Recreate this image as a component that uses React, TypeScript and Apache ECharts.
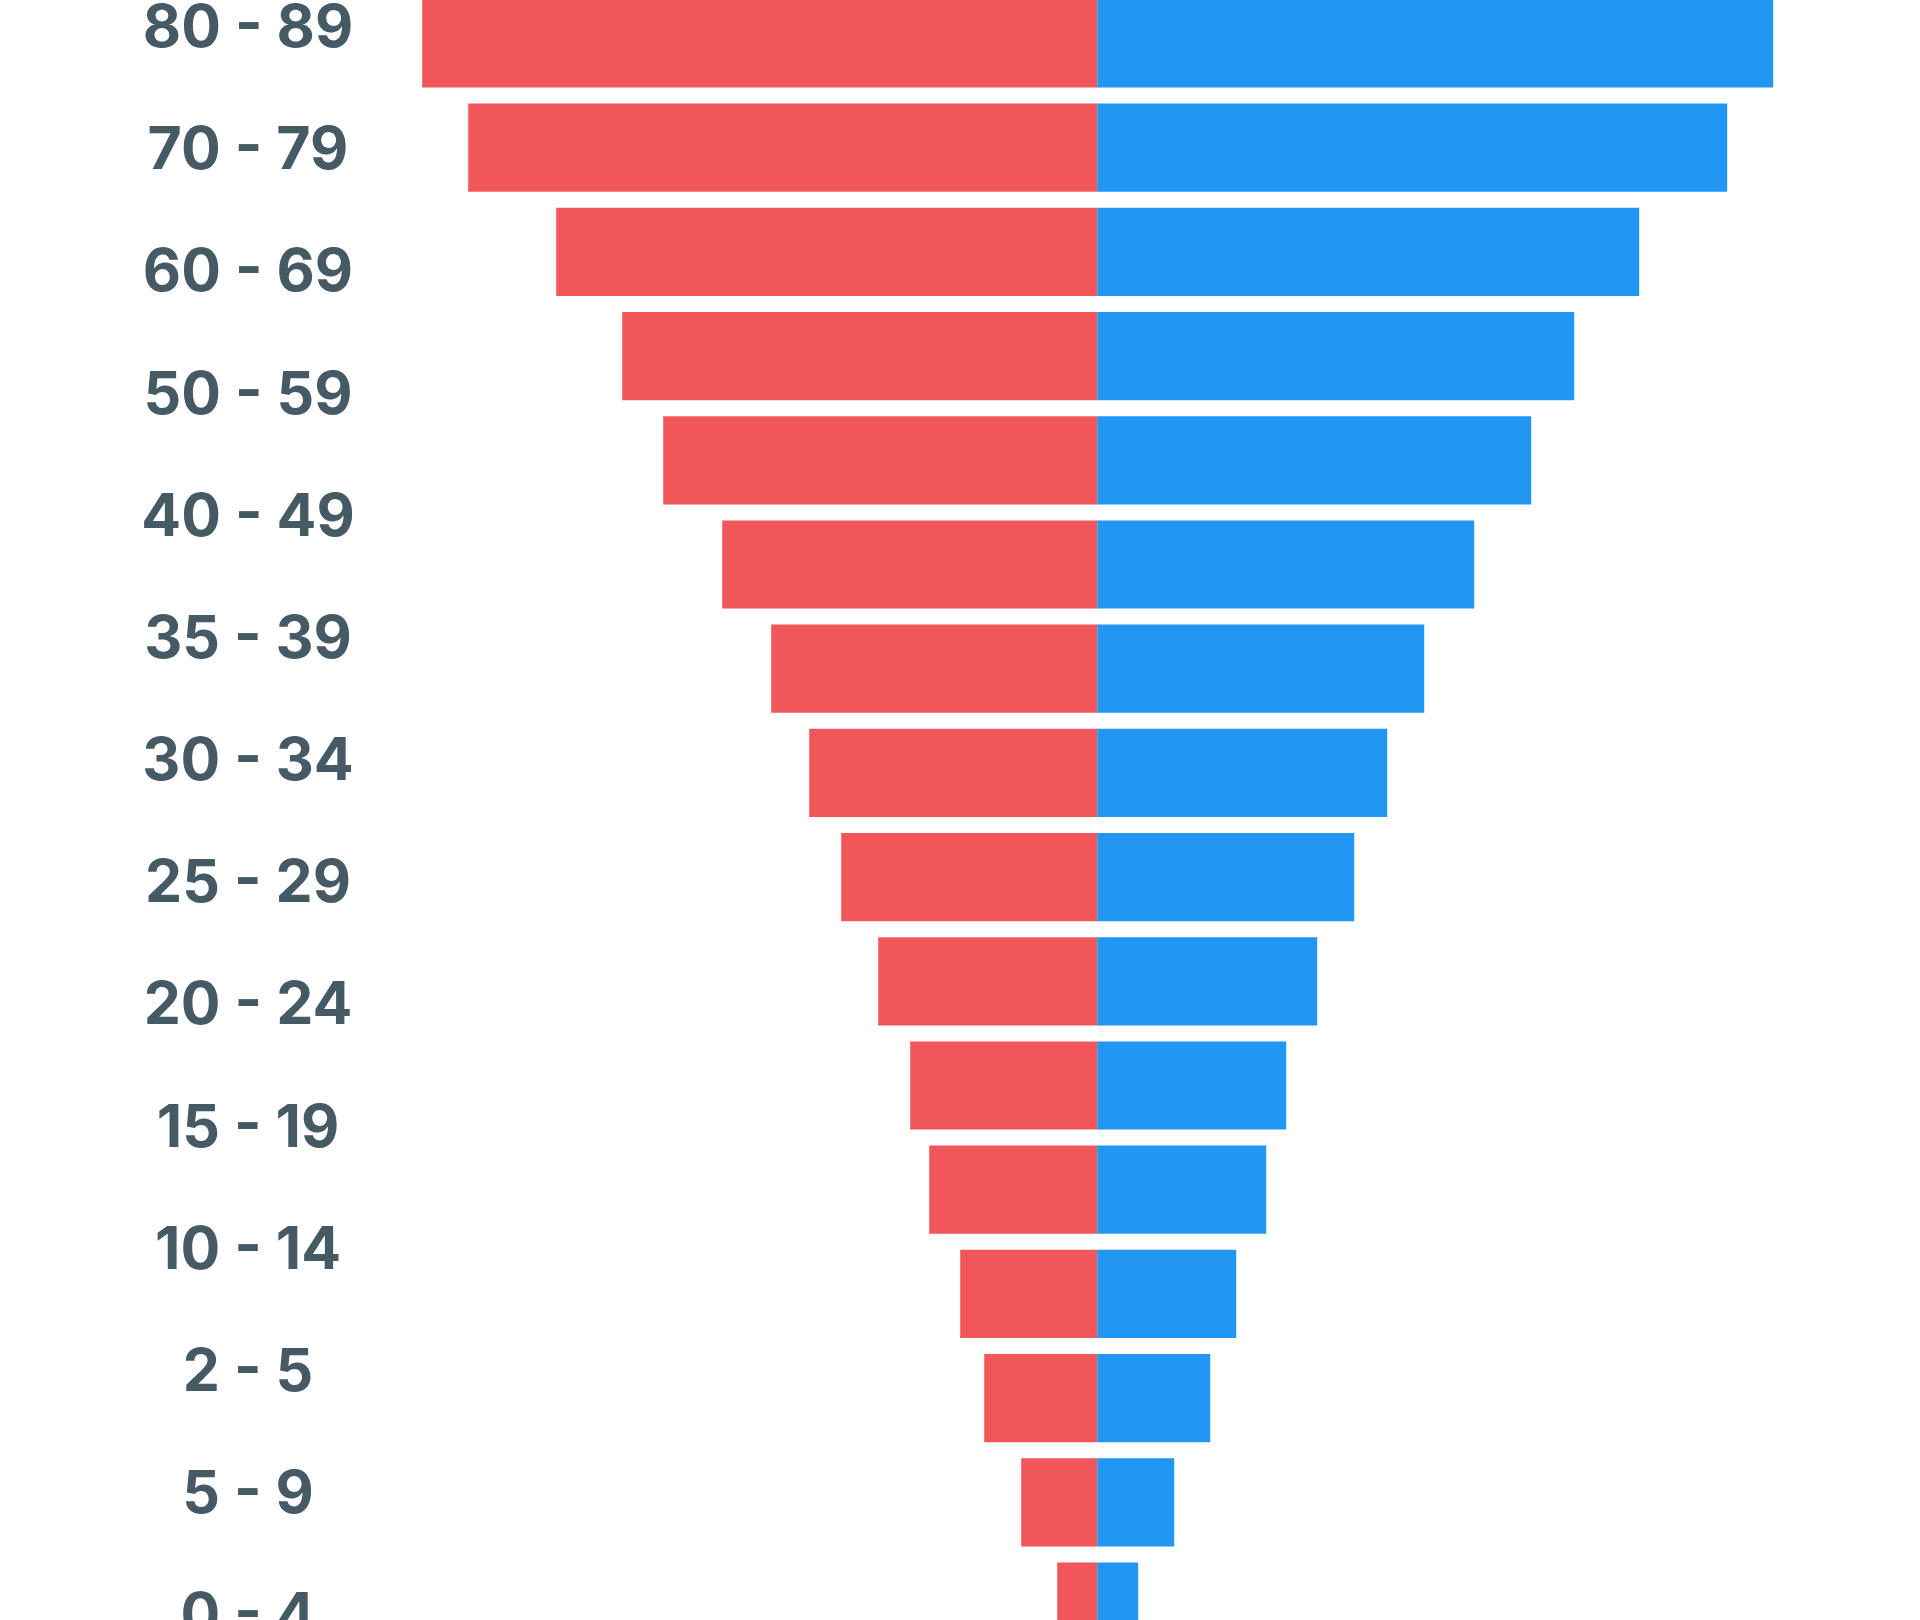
import React, { useEffect, useRef } from "react";
import * as echarts from "echarts";

// Row labels drawn down the left side (top to bottom)
const ageLabels = [
  "80 - 89", "70 - 79", "60 - 69", "50 - 59", "40 - 49", "35 - 39", "30 - 34",
  "25 - 29", "20 - 24", "15 - 19", "10 - 14", "2 - 5", "5 - 9", "0 - 4",
];

// Bar rows (top to bottom)
const barRows = [
  "Row 1", "Row 2", "Row 3", "Row 4", "Row 5", "Row 6", "Row 7", "Row 8",
  "Row 9", "Row 10", "Row 11", "Row 12", "Row 13", "Row 14", "Row 15", "Row 16",
];

// Left (red) side values
const leftValues = [67.5, 62.9, 54.1, 47.5, 43.4, 37.5, 32.6, 28.8, 25.6, 21.9, 18.7, 16.8, 13.7, 11.3, 7.6, 4.0];
// Right (blue) side values
const rightValues = [67.6, 63.0, 54.2, 47.7, 43.4, 37.7, 32.7, 29.0, 25.7, 22.0, 18.9, 16.9, 13.9, 11.3, 7.7, 4.1];

const RED = "#F0565A";
const BLUE = "#2196F3";
const TEXT = "#455A64";

export default function App() {
  const ref = useRef<HTMLDivElement>(null);

  useEffect(() => {
    if (!ref.current) return;
    const chart = echarts.init(ref.current, undefined, { renderer: "svg" });
    chart.setOption({
      animation: false,
      backgroundColor: "#FFFFFF",
      grid: [
        { left: 297.2, width: 1600, top: -8.6, height: 1667.2, containLabel: false, outerBoundsMode: "none" },
        { left: 300, width: 100, top: -35.6, height: 1710.4, containLabel: false, outerBoundsMode: "none" },
      ],
      xAxis: [
        {
          gridIndex: 0,
          type: "value",
          min: -80,
          max: 80,
          show: false,
          splitLine: { show: false },
        },
        {
          gridIndex: 1,
          type: "value",
          min: 0,
          max: 1,
          show: false,
          splitLine: { show: false },
        },
      ],
      yAxis: [
        {
          gridIndex: 0,
          type: "category",
          data: barRows,
          inverse: true,
          show: false,
        },
        {
          gridIndex: 1,
          type: "category",
          data: ageLabels,
          inverse: true,
          axisLine: { show: false },
          axisTick: { show: false },
          splitLine: { show: false },
          axisLabel: {
            margin: 52,
            align: "center",
            verticalAlign: "middle",
            fontSize: 59,
            fontWeight: 700,
            fontFamily: "Inter",
            color: TEXT,
          },
        },
      ],
      series: [
        {
          name: "Left",
          type: "bar",
          xAxisIndex: 0,
          yAxisIndex: 0,
          stack: "pyramid",
          barCategoryGap: "15.4%",
          data: leftValues.map((v) => -v),
          itemStyle: { color: RED },
        },
        {
          name: "Right",
          type: "bar",
          xAxisIndex: 0,
          yAxisIndex: 0,
          stack: "pyramid",
          barCategoryGap: "15.4%",
          data: rightValues,
          itemStyle: { color: BLUE },
        },
      ],
    });
    return () => chart.dispose();
  }, []);

  return (
    <div
      ref={ref}
      style={{ position: "absolute", left: 0, top: 0, width: 1920, height: 1620 }}
    />
  );
}
